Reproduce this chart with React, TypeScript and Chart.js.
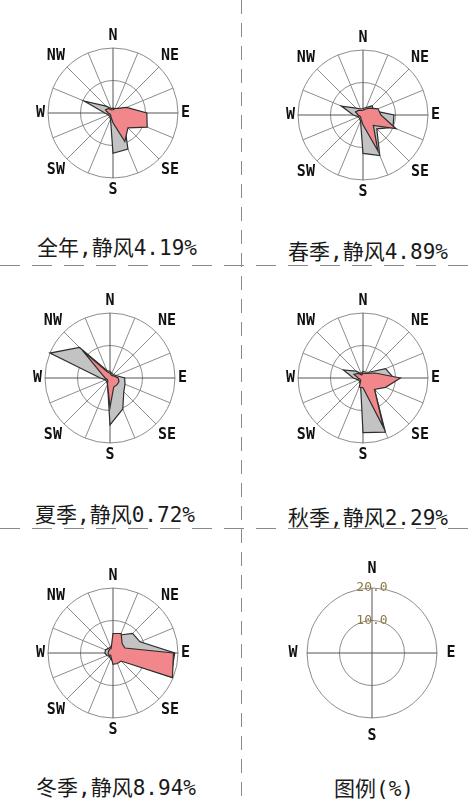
import { useEffect, useRef } from 'react';
import { Chart, registerables } from 'chart.js';

Chart.register(...registerables);

// 16 compass sectors, clockwise from north
const directions = ['N', 'NNE', 'NE', 'ENE', 'E', 'ESE', 'SE', 'SSE', 'S', 'SSW', 'SW', 'WSW', 'W', 'WNW', 'NW', 'NNW'];
const shownLabels = ['N', 'NE', 'E', 'SE', 'S', 'SW', 'W', 'NW'];
const legendDirections = ['N', 'E', 'S', 'W'];
const scaleMax = 20;
const ringStep = 10;

// wind direction frequency (%) — grey rose
const annualFreq = [1.5, 1.5, 2, 3, 6, 7, 5, 12, 12.4, 2, 1.5, 1.5, 2.5, 9.5, 3, 1.5];
const springFreq = [2, 2.5, 4, 3.5, 9.5, 10, 6, 13.5, 11.8, 2, 1.5, 1.5, 3, 7.2, 3, 2];
const summerFreq = [2, 1.5, 1.5, 2, 4.5, 5, 6, 10.3, 14.4, 2, 1.5, 1.5, 3, 20, 13.3, 2.5];
const autumnFreq = [2, 2, 2.5, 7.5, 9.5, 6, 5, 18, 16.8, 2, 1.5, 1.5, 3, 6.5, 3, 1.5];
const winterFreq = [3, 6, 8.5, 9, 19, 19.3, 3, 2.5, 2.5, 2, 1.5, 2, 2.5, 2.5, 2, 2];

// second rose (%) — pink
const annualCoef = [1, 1.5, 2, 4.5, 10.4, 11.4, 6.5, 9.5, 3, 1.5, 1, 1, 1.5, 2.5, 2, 1];
const springCoef = [1.5, 2, 3, 5, 5.5, 11, 4.5, 12, 3, 1.5, 1, 1, 1.5, 2.5, 2, 1.5];
const summerCoef = [1.5, 1, 1, 1.5, 2.5, 3, 3, 3, 9, 2, 1, 1, 1.5, 2.5, 12, 2];
const autumnCoef = [1.5, 1.5, 2, 4, 11.5, 7.5, 5, 16.5, 3, 3, 1, 1, 1.5, 3, 2, 1];
const winterCoef = [6, 6.5, 4, 4, 18.6, 19.8, 3.5, 3.5, 3.5, 1.5, 1, 1.5, 1.5, 1.5, 1.5, 1.5];

const panelTitles = ['全年,静风4.19%', '春季,静风4.89%', '夏季,静风0.72%', '秋季,静风2.29%', '冬季,静风8.94%'];
const legendTitle = '图例(%)';

const GRAY = '#c3c3c3';
const PINK = '#f2878b';
const EDGE = '#2e2e2e';
const GRID = '#8c8c8c';
const AXIS = '#555555';
const LABEL_FONT = { family: '"DejaVu Sans Mono", monospace', size: 15, weight: 'bold' as const };
const TITLE_FONT = '"DejaVu Sans Mono", "Noto Sans CJK SC", sans-serif';

const CANVAS = 200;

function Rose(props: { freq?: number[]; coef?: number[]; cx: number; cy: number; legend?: boolean }) {
  const ref = useRef<HTMLCanvasElement>(null);
  useEffect(() => {
    const legend = !!props.legend;
    const chart = new Chart(ref.current!, {
      type: 'radar',
      data: {
        labels: legend ? legendDirections : directions,
        datasets: legend
          ? []
          : [
              {
                data: props.coef!,
                backgroundColor: PINK,
                borderColor: EDGE,
                borderWidth: 1.2,
                fill: true,
                pointRadius: 0,
                tension: 0,
              },
              {
                data: props.freq!,
                backgroundColor: GRAY,
                borderColor: EDGE,
                borderWidth: 1.2,
                fill: true,
                pointRadius: 0,
                tension: 0,
              },
            ],
      },
      options: {
        responsive: false,
        animation: false,
        devicePixelRatio: 1,
        layout: { padding: legend ? 7.5 : 14 },
        plugins: { legend: { display: false }, tooltip: { enabled: false }, title: { display: false } },
        scales: {
          r: {
            min: 0,
            max: scaleMax,
            startAngle: 0,
            ticks: {
              display: legend,
              stepSize: ringStep,
              showLabelBackdrop: false,
              backdropPadding: 0,
              color: '#8c7842',
              font: { family: '"DejaVu Sans Mono", monospace', size: 13 },
              callback: (v: any) => Number(v).toFixed(1),
            },
            grid: { circular: true, color: GRID, lineWidth: 1 },
            angleLines: {
              display: true,
              lineWidth: 1,
              color: (ctx: any) => (legend || ctx.index % 4 === 0 ? AXIS : GRID),
            },
            pointLabels: {
              display: true,
              padding: 3,
              color: '#111',
              font: LABEL_FONT,
              callback: (l: string) => (shownLabels.includes(l) ? l : ''),
            },
          },
        },
      },
    });
    return () => chart.destroy();
  }, []);
  return (
    <canvas
      ref={ref}
      width={CANVAS}
      height={CANVAS}
      style={{ position: 'absolute', left: props.cx - CANVAS / 2, top: props.cy - CANVAS / 2, width: CANVAS, height: CANVAS }}
    />
  );
}

function Title(props: { text: string; x: number; y: number }) {
  return (
    <div
      style={{
        position: 'absolute',
        left: props.x,
        top: props.y,
        transform: 'translate(-50%, -50%)',
        whiteSpace: 'nowrap',
        fontFamily: TITLE_FONT,
        fontSize: 21,
        lineHeight: '24px',
        color: '#1a1a1a',
      }}
    >
      {props.text}
    </div>
  );
}

export default function App() {
  return (
    <div style={{ position: 'absolute', left: 0, top: 0, width: 474, height: 803, background: '#fff', overflow: 'hidden' }}>
      <svg width={474} height={803} style={{ position: 'absolute', left: 0, top: 0 }}>
        <line x1={241.5} y1={0} x2={241.5} y2={803} stroke="#8a8a8a" strokeWidth={1} strokeDasharray="14 9" />
        <line x1={0} y1={265.5} x2={474} y2={265.5} stroke="#8a8a8a" strokeWidth={1} strokeDasharray="20 12" />
        <line x1={0} y1={528.5} x2={474} y2={528.5} stroke="#8a8a8a" strokeWidth={1} strokeDasharray="20 12" />
      </svg>
      <Rose freq={annualFreq} coef={annualCoef} cx={113} cy={113} />
      <Rose freq={springFreq} coef={springCoef} cx={363} cy={115} />
      <Rose freq={summerFreq} coef={summerCoef} cx={110} cy={378} />
      <Rose freq={autumnFreq} coef={autumnCoef} cx={363} cy={378} />
      <Rose freq={winterFreq} coef={winterCoef} cx={113} cy={653} />
      <Rose cx={372} cy={653} legend />
      <Title text={panelTitles[0]} x={117} y={248} />
      <Title text={panelTitles[1]} x={368} y={252} />
      <Title text={panelTitles[2]} x={115} y={515} />
      <Title text={panelTitles[3]} x={368} y={518} />
      <Title text={panelTitles[4]} x={116} y={788} />
      <Title text={legendTitle} x={374} y={789} />
    </div>
  );
}
